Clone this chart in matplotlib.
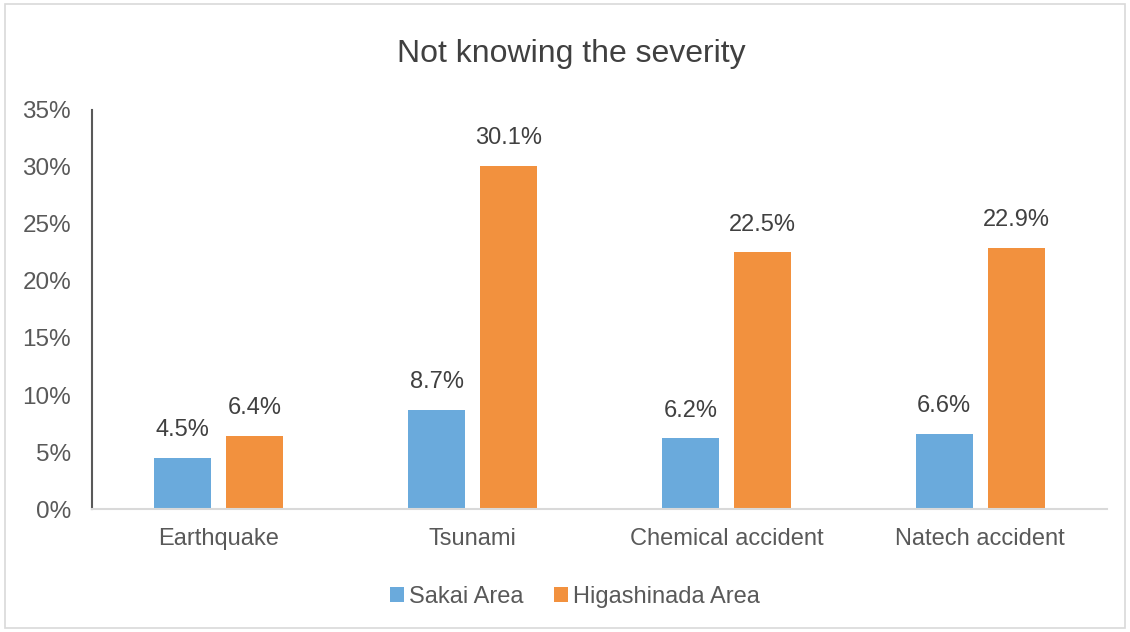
import matplotlib
matplotlib.use("Agg")
import matplotlib.pyplot as plt
import numpy as np
from matplotlib.patches import Rectangle
from matplotlib.ticker import PercentFormatter

categories = ["Earthquake", "Tsunami", "Chemical accident", "Natech accident"]
sakai = [4.5, 8.7, 6.2, 6.6]
higashinada = [6.4, 30.1, 22.5, 22.9]
series_names = ["Sakai Area", "Higashinada Area"]
colors = ["#6aaadc", "#f2913e"]

plt.rcParams['font.family'] = ['Liberation Sans', 'DejaVu Sans']
txt = "#404040"
tick_c = "#595959"

fig = plt.figure(figsize=(11.3, 6.32), dpi=100)
fig.patches.append(Rectangle((0.004, 0.006), 0.992, 0.988, transform=fig.transFigure,
                             fill=False, edgecolor="#d9d9d9", linewidth=1.2))
ax = fig.add_axes([0.0814, 0.1946, 0.8982, 0.6314])

x = np.arange(len(categories))
w = 0.225
off = 0.142
b1 = ax.bar(x - off, sakai, w, color=colors[0], label=series_names[0])
b2 = ax.bar(x + off, higashinada, w, color=colors[1], label=series_names[1])
for bars, vals in ((b1, sakai), (b2, higashinada)):
    for r, v in zip(bars, vals):
        ax.annotate(f"{v:.1f}%", (r.get_x() + r.get_width() / 2, v), xytext=(0, 12),
                    textcoords="offset points", ha="center", va="bottom",
                    fontsize=17, color=txt)

ax.set_xlim(-0.5, len(categories) - 0.5)
ax.set_ylim(0, 35)
ax.set_yticks(np.arange(0, 36, 5))
ax.yaxis.set_major_formatter(PercentFormatter(decimals=0))
ax.set_xticks(x)
ax.set_xticklabels(categories)
ax.tick_params(axis='both', length=0, labelsize=17, colors=tick_c)
ax.tick_params(axis='y', labelsize=17.5, pad=15)
ax.tick_params(axis='x', pad=14)
for s in ("top", "right"):
    ax.spines[s].set_visible(False)
ax.spines["left"].set_color("#595959")
ax.spines["left"].set_linewidth(1.5)
ax.spines["bottom"].set_color("#d9d9d9")
ax.spines["bottom"].set_linewidth(1.5)

fig.text(0.506, 0.915, "Not knowing the severity", ha="center", va="center",
         fontsize=23, color=txt)
fig.legend(loc="center", bbox_to_anchor=(0.509, 0.056), ncol=2, frameon=False,
           fontsize=17, handlelength=0.6, handleheight=0.6, handletextpad=0.2,
           columnspacing=1.3, labelcolor=tick_c)

fig.savefig("out.png", dpi=100)
